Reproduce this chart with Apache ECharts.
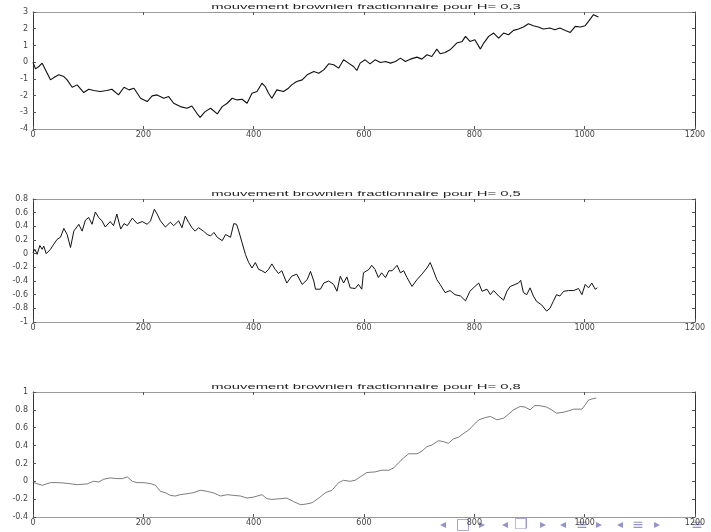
<!DOCTYPE html>
<html>
<head>
<meta charset="utf-8">
<script src="https://cdn.jsdelivr.net/npm/echarts@6/dist/echarts.min.js"></script>
<style>
html,body{margin:0;padding:0;background:#fff;}
#chart{width:711px;height:532px;}
</style>
</head>
<body>
<div id="chart"></div>
<script>
// ---- data ----
var titles = [
  "mouvement brownien fractionnaire pour H= 0,3",
  "mouvement brownien fractionnaire pour H= 0,5",
  "mouvement brownien fractionnaire pour H= 0,8"
];
var xTicks = [0, 200, 400, 600, 800, 1000, 1200];

var h03 = [[0,0.0],[4.5,-0.4],[10.6,-0.26],[16.6,-0.06],[22.6,-0.46],[31.7,-1.06],[40.8,-0.86],[46.8,-0.76],[55.9,-0.86],[61.9,-1.06],[71,-1.5],[80,-1.36],[92,-1.82],[101,-1.62],[110,-1.7],[122,-1.76],[134,-1.7],[143,-1.62],[155,-1.96],[165,-1.5],[174,-1.66],[183,-1.56],[195,-2.16],[207,-2.36],[216,-2.02],[225,-1.96],[237,-2.16],[246,-2.06],[255,-2.46],[267,-2.66],[279,-2.76],[288,-2.62],[297,-3.06],[303,-3.3],[312,-2.96],[322,-2.76],[334,-3.1],[343,-2.66],[352,-2.46],[361,-2.16],[370,-2.26],[379,-2.22],[388,-2.46],[397,-1.86],[406,-1.76],[415,-1.26],[421,-1.46],[427,-1.86],[433,-2.16],[442,-1.66],[454,-1.76],[463,-1.56],[469,-1.36],[478,-1.16],[488,-1.06],[497,-0.76],[509,-0.56],[518,-0.66],[527,-0.46],[536,-0.1],[545,-0.16],[554,-0.36],[563,0.14],[572,-0.06],[581,-0.26],[587,-0.5],[593,-0.06],[602,0.14],[611,-0.1],[620,0.14],[630,-0.02],[639,0.04],[648,-0.06],[657,0.04],[666,0.24],[675,0.04],[684,0.18],[696,0.3],[705,0.18],[714,0.44],[723,0.34],[732,0.78],[738,0.5],[747,0.58],[756,0.74],[768,1.14],[778,1.24],[784,1.54],[792,1.24],[801,1.34],[811,0.78],[817,1.14],[826,1.54],[835,1.74],[844,1.44],[853,1.74],[862,1.64],[871,1.9],[880,1.98],[889,2.1],[898,2.3],[907,2.18],[916,2.1],[925,1.98],[937,2.04],[946,1.94],[955,2.04],[965,1.9],[974,1.78],[983,2.14],[992,2.1],[1001,2.18],[1007,2.44],[1016,2.84],[1025,2.7]];

var h05 = [[0,0.015],[3.3,0.064],[7.5,-0.01],[12.4,0.12],[16.6,0.064],[19.6,0.11],[23.9,0],[31.7,0.064],[37.7,0.14],[43.8,0.21],[49.8,0.24],[55.9,0.37],[61.9,0.28],[68,0.09],[74,0.33],[83,0.43],[89,0.33],[95,0.49],[101,0.53],[107,0.43],[113,0.61],[119,0.53],[125,0.48],[131,0.39],[140,0.47],[146,0.41],[152,0.58],[159,0.36],[165,0.44],[171,0.41],[180,0.52],[189,0.44],[198,0.47],[207,0.43],[213,0.48],[220,0.65],[225,0.58],[231,0.48],[240,0.39],[249,0.46],[255,0.41],[264,0.48],[270,0.38],[276,0.55],[282,0.46],[288,0.38],[294,0.33],[300,0.38],[309,0.33],[316,0.28],[322,0.26],[328,0.31],[334,0.24],[343,0.19],[349,0.28],[358,0.24],[364,0.44],[369,0.43],[373,0.33],[379,0.16],[385,-0.01],[391,-0.13],[397,-0.21],[403,-0.13],[409,-0.23],[415,-0.25],[421,-0.28],[427,-0.23],[433,-0.15],[439,-0.23],[445,-0.29],[451,-0.25],[460,-0.43],[469,-0.33],[478,-0.3],[488,-0.45],[497,-0.38],[503,-0.26],[509,-0.4],[512,-0.52],[521,-0.52],[527,-0.43],[536,-0.4],[545,-0.45],[551,-0.55],[557,-0.33],[563,-0.43],[569,-0.34],[575,-0.5],[584,-0.51],[590,-0.45],[596,-0.52],[599,-0.28],[609,-0.23],[614,-0.17],[620,-0.23],[626,-0.35],[632,-0.28],[639,-0.35],[645,-0.25],[651,-0.25],[660,-0.17],[666,-0.28],[672,-0.25],[678,-0.35],[687,-0.48],[696,-0.38],[705,-0.3],[714,-0.21],[720,-0.13],[726,-0.25],[732,-0.38],[738,-0.45],[747,-0.57],[756,-0.54],[765,-0.6],[775,-0.62],[784,-0.69],[792,-0.55],[801,-0.48],[808,-0.43],[814,-0.55],[823,-0.52],[829,-0.6],[835,-0.54],[844,-0.62],[853,-0.68],[859,-0.55],[865,-0.48],[874,-0.45],[880,-0.43],[884,-0.39],[889,-0.57],[895,-0.6],[901,-0.5],[907,-0.62],[913,-0.7],[922,-0.75],[931,-0.84],[937,-0.8],[943,-0.7],[949,-0.6],[955,-0.62],[962,-0.55],[971,-0.54],[980,-0.54],[989,-0.51],[995,-0.6],[1001,-0.45],[1007,-0.5],[1013,-0.43],[1019,-0.52],[1023,-0.5]];

var h08 = [[1.5,-0.015],[16.6,-0.045],[31.7,-0.015],[46.8,-0.015],[61.9,-0.023],[80,-0.038],[98,-0.03],[110,0],[119,-0.008],[128,0.023],[140,0.038],[152,0.03],[162,0.03],[171,0.049],[180,0],[189,-0.015],[201,-0.015],[213,-0.026],[222,-0.045],[231,-0.113],[240,-0.128],[249,-0.158],[258,-0.165],[267,-0.15],[279,-0.139],[291,-0.128],[303,-0.1],[316,-0.113],[328,-0.132],[340,-0.165],[352,-0.15],[364,-0.158],[376,-0.165],[388,-0.188],[400,-0.177],[415,-0.15],[424,-0.195],[433,-0.203],[448,-0.195],[460,-0.188],[472,-0.226],[485,-0.263],[494,-0.256],[506,-0.24],[518,-0.188],[530,-0.128],[542,-0.1],[554,-0.015],[563,0.011],[575,0],[584,0.011],[593,0.049],[605,0.098],[620,0.105],[632,0.124],[645,0.124],[654,0.15],[663,0.21],[672,0.263],[681,0.308],[696,0.308],[705,0.338],[714,0.387],[723,0.406],[735,0.455],[744,0.444],[753,0.425],[762,0.474],[771,0.492],[781,0.538],[790,0.575],[799,0.632],[808,0.688],[820,0.714],[829,0.726],[841,0.688],[853,0.707],[862,0.752],[871,0.8],[883,0.838],[892,0.831],[901,0.8],[910,0.85],[919,0.846],[931,0.831],[940,0.8],[949,0.763],[962,0.774],[971,0.789],[980,0.808],[995,0.808],[1001,0.857],[1007,0.91],[1015,0.925],[1021,0.932]];

var yRanges = [[-4, 3, 1], [-1, 0.8, 0.2], [-0.4, 1, 0.2]];
var seriesData = [h03, h05, h08];

// ---- layout / style ----
var grids = [
  {left: 33, right: 16, top: 12, height: 117},
  {left: 33, right: 16, top: 199, height: 123},
  {left: 33, right: 16, top: 392, height: 125}
];
var titleY = [7, 194, 387];
var lineColors = ['#111', '#111', '#444'];
var lineWidths = [1.1, 1.0, 0.7];

var labelFont = {fontFamily: 'DejaVu Sans', fontSize: 8, color: '#444'};
var xAxes = [], yAxes = [], series = [], graphics = [];

for (var i = 0; i < 3; i++) {
  xAxes.push({
    type: 'value', gridIndex: i, position: 'bottom', min: 0, max: 1200, interval: 200,
    axisLine: {show: true, onZero: false, lineStyle: {color: '#9a9a9a', width: 1}},
    axisTick: {show: true, inside: true, length: 3, lineStyle: {color: '#555'}},
    axisLabel: Object.assign({margin: 2, formatter: function (v) { return String(v); }}, labelFont),
    splitLine: {show: false}
  });
  xAxes.push({
    type: 'value', gridIndex: i, position: 'top', min: 0, max: 1200, interval: 200,
    axisLine: {show: true, onZero: false, lineStyle: {color: '#9a9a9a', width: 1}},
    axisTick: {show: true, inside: true, length: 3, lineStyle: {color: '#555'}},
    axisLabel: {show: false}, splitLine: {show: false}
  });
  yAxes.push({
    type: 'value', gridIndex: i, position: 'left',
    min: yRanges[i][0], max: yRanges[i][1], interval: yRanges[i][2],
    axisLine: {show: true, onZero: false, lineStyle: {color: '#333', width: 1}},
    axisTick: {show: true, inside: true, length: 3, lineStyle: {color: '#555'}},
    axisLabel: Object.assign({margin: 5}, labelFont),
    splitLine: {show: false}
  });
  yAxes.push({
    type: 'value', gridIndex: i, position: 'right',
    min: yRanges[i][0], max: yRanges[i][1], interval: yRanges[i][2],
    axisLine: {show: true, onZero: false, lineStyle: {color: '#333', width: 1}},
    axisTick: {show: true, inside: true, length: 3, lineStyle: {color: '#555'}},
    axisLabel: {show: false}, splitLine: {show: false}
  });
  series.push({
    type: 'line', xAxisIndex: 2 * i, yAxisIndex: 2 * i,
    data: seriesData[i], showSymbol: false, symbol: 'none', animation: false,
    lineStyle: {color: lineColors[i], width: lineWidths[i]}
  });
  graphics.push({
    type: 'text', x: 366, y: titleY[i], scaleX: 2.12, scaleY: 1,
    style: {text: titles[i], font: '7px "Liberation Sans"', fill: '#222',
            textAlign: 'center', textVerticalAlign: 'middle'}
  });
}

// beamer navigation symbols
var navColor = '#9494cc';
var navItems = [
  ['\u25C2', 443, 12], ['\u25A1', 463, 15], ['\u25B8', 482, 12],
  ['\u25C2', 505, 12], ['\u2750', 521, 15], ['\u25B8', 543, 12],
  ['\u25C2', 563, 12], ['\u2261', 582, 14], ['\u25B8', 599, 12],
  ['\u25C2', 620, 12], ['\u2261', 638, 14], ['\u25B8', 657, 12],
  ['\u2261', 697, 14]
];
navItems.forEach(function (n) {
  graphics.push({
    type: 'text', x: n[1], y: 525,
    style: {text: n[0], font: n[2] + 'px "DejaVu Sans"', fill: navColor,
            textAlign: 'center', textVerticalAlign: 'middle'}
  });
});

var chart = echarts.init(document.getElementById('chart'), null, {renderer: 'canvas'});
chart.setOption({
  animation: false,
  backgroundColor: '#fff',
  grid: grids,
  xAxis: xAxes,
  yAxis: yAxes,
  series: series,
  graphic: graphics
});
</script>
</body>
</html>
